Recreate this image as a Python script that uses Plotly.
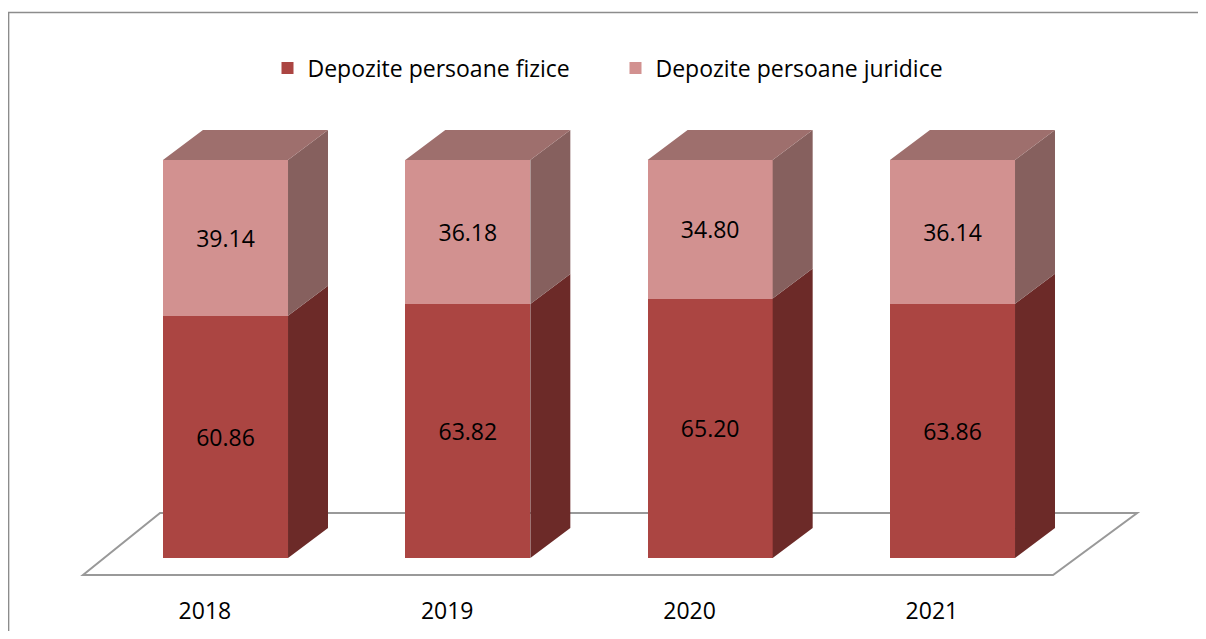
import plotly.graph_objects as go

# --- date ---
years = ["2018", "2019", "2020", "2021"]
fizice = [60.86, 63.82, 65.20, 63.86]
juridice = [39.14, 36.18, 34.80, 36.14]
series_names = ["Depozite persoane fizice", "Depozite persoane juridice"]

# --- stil ---
FRONT = ["#AB4542", "#D29190"]
SIDE = ["#6C2A28", "#86605E"]
TOP = "#9E6F6D"
FONT = "Open Sans"
BAR_W = 0.516
DX, DY = 0.165, 7.54  # adancimea 3D (unitati x / unitati y)
LABEL_SHIFT = -0.085  # etichetele anilor stau sub marginea din fata a podelei
W, H = 1198, 623      # pagina are 8px margine implicita

xpos = list(range(len(years)))

fig = go.Figure()

# fata barelor
for k, (vals, name) in enumerate(zip([fizice, juridice], series_names)):
    fig.add_trace(go.Bar(
        x=xpos, y=vals, name=name, width=BAR_W,
        marker=dict(color=FRONT[k], line=dict(width=0)),
        text=[f"{v:.2f}" for v in vals], textposition="inside",
        insidetextanchor="middle", textangle=0,
        textfont=dict(family=FONT, size=23, color="black"),
    ))

# laterale si capac
bases = [[0] * len(years), fizice]
for k, vals in enumerate([fizice, juridice]):
    sx, sy = [], []
    for i, x in enumerate(xpos):
        lo = bases[k][i]
        hi = lo + vals[i]
        r = x + BAR_W / 2
        sx += [r, r + DX, r + DX, r, r, None]
        sy += [lo, lo + DY, hi + DY, hi, lo, None]
    fig.add_trace(go.Scatter(x=sx, y=sy, fill="toself", fillcolor=SIDE[k], mode="lines",
                             line=dict(width=0), showlegend=False, hoverinfo="skip"))

tx, ty = [], []
for i, x in enumerate(xpos):
    h = fizice[i] + juridice[i]
    l, r = x - BAR_W / 2, x + BAR_W / 2
    tx += [l, r, r + DX, l + DX, l, None]
    ty += [h, h, h + DY, h + DY, h, None]
fig.add_trace(go.Scatter(x=tx, y=ty, fill="toself", fillcolor=TOP, mode="lines",
                         line=dict(width=0), showlegend=False, hoverinfo="skip"))

# etichete ani
fig.add_trace(go.Scatter(x=[x + LABEL_SHIFT for x in xpos], y=[-13.85] * len(years),
                         mode="text", text=years,
                         textfont=dict(family=FONT, size=23, color="black"),
                         showlegend=False, hoverinfo="skip"))

# podeaua
floor = [(-0.588, -4.27), (3.415, -4.27), (3.762, 11.31), (-0.270, 11.31)]
path = "M " + " L ".join(f"{a},{b}" for a, b in floor) + " Z"
fig.add_shape(type="path", path=path, xref="x", yref="y", layer="below",
              line=dict(color="#999999", width=2), fillcolor="white")

# chenar (marginea dreapta si cea de jos ies din imagine)
fig.add_shape(type="rect", xref="paper", yref="paper", x0=0.6 / W, x1=1.02,
              y0=-0.05, y1=1 - 4.5 / H, line=dict(color="#8C8C8C", width=1.5))

fig.update_layout(
    width=W, height=H, barmode="stack",
    margin=dict(l=0, r=0, t=0, b=0),
    paper_bgcolor="white", plot_bgcolor="white",
    xaxis=dict(range=[-0.8975, 4.0461], visible=False, fixedrange=True),
    yaxis=dict(range=[-18.34, 138.19], visible=False, fixedrange=True),
    legend=dict(orientation="h", x=259.5 / W, xanchor="left", y=1 - 60 / H, yanchor="middle",
                traceorder="normal", font=dict(family=FONT, size=23, color="black"),
                entrywidth=303, entrywidthmode="pixels"),
    showlegend=True,
)

fig.write_html("out.html")
